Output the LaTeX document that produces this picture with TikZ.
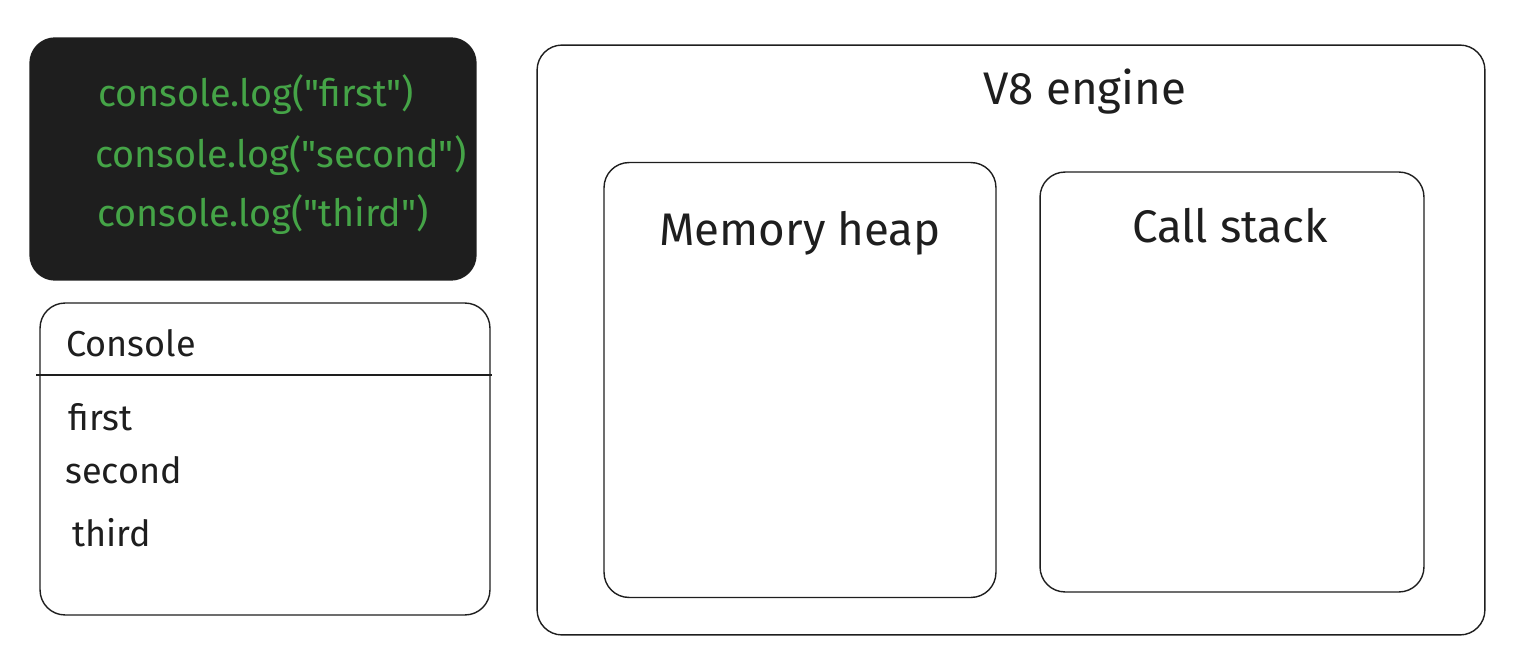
\documentclass[tikz,border=0pt]{standalone}
\usepackage{fontspec}
\setmainfont{Fira Sans}
\usetikzlibrary{positioning}
\definecolor{codebg}{HTML}{1E1E1E}
\definecolor{codegreen}{HTML}{45A447}
\definecolor{inkline}{HTML}{1E1E1E}
\newcommand{\qt}{\textquotedbl}

\begin{document}
\begin{tikzpicture}[x=0.02cm,y=-0.02cm]
      \useasboundingbox (0,0) rectangle (1518,672);
      \begin{scope}[every node/.style={draw= inkline,thick,rounded corners= 0.5cm,inner sep=0pt}]
        \node (code)[fill= codebg,minimum width= 8.92cm,minimum height= 4.84cm] at (253,159) {};
        \node (console)[minimum width= 9cm,minimum height= 6.24cm] at (265,459) {};
        \node (engine)[minimum width= 18.96cm,minimum height= 11.8cm] at (1011,340) {};
        \node (heap)[minimum width= 7.84cm,minimum height= 8.7cm] at (800,380) {};
        \node (stack)[minimum width= 7.68cm,minimum height= 8.4cm] at (1232,382) {};
      \end{scope}
      \begin{scope}[every node/.style={text= codegreen,font=\fontsize{21.5}{24}\selectfont,anchor= west,inner sep=0pt}]
        \node (logfirst) at (98,95) {console.log(\qt first\qt)};
        \node (logsecond) at (95,156) {console.log(\qt second\qt)};
        \node (logthird) at (97,215) {console.log(\qt third\qt)};
      \end{scope}
      \begin{scope}[every node/.style={text= inkline,font=\fontsize{20.5}{24}\selectfont,anchor= west,inner sep=0pt}]
        \node (title) at (66,343) {Console};
        \node (outfirst) at (68,417) {first};
        \node (outsecond) at (65,470) {second};
        \node (outthird) at (72,533) {third};
      \end{scope}
      \begin{scope}[every node/.style={text= inkline,font=\fontsize{26}{30}\selectfont,inner sep=0pt}]
        \node (enginelabel) at (1085,92) {V8 engine};
        \node (heaplabel) at (800,233) {Memory heap};
        \node (stacklabel) at (1230,226) {Call stack};
      \end{scope}
      \coordinate (sepleft) at (36,375);
      \coordinate (sepright) at (492,375);
      \draw[inkline,thick] (sepleft) -- (sepright);
    \end{tikzpicture}
\end{document}
